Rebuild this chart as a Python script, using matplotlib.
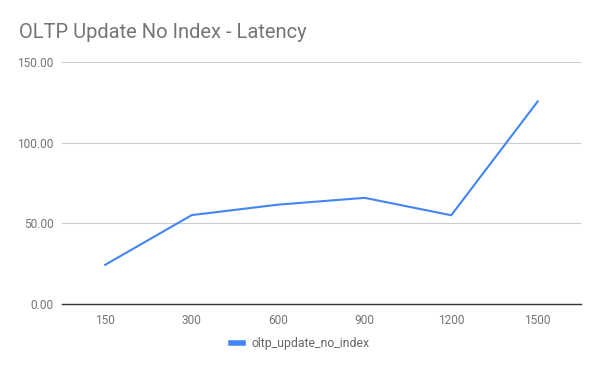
import matplotlib
matplotlib.use("Agg")
import matplotlib.pyplot as plt
from matplotlib.lines import Line2D

categories = ["150", "300", "600", "900", "1200", "1500"]
latency = [24.3, 55.1, 61.6, 65.8, 55.0, 125.6]
series_name = "oltp_update_no_index"
title = "OLTP Update No Index - Latency"
yticks = [0, 50, 100, 150]

plt.rcParams['font.family'] = ['Roboto', 'DejaVu Sans']

fig = plt.figure(figsize=(6.0, 3.71), dpi=100)
ax = fig.add_axes([62/600, 1-304/371, 519/600, 242/371])

x = list(range(len(categories)))
ax.plot(x, latency, color="#4285F4", linewidth=1.5, solid_joinstyle="round")

ax.set_xlim(-0.5, len(categories) - 0.5)
ax.set_ylim(0, 150)
ax.set_xticks(x)
ax.set_xticklabels(categories)
ax.set_yticks(yticks)
ax.set_yticklabels([f"{v:.2f}" for v in yticks])
ax.grid(axis="y", color="#cccccc", linewidth=0.8)
ax.set_axisbelow(True)
for s in ["top", "right", "left"]:
    ax.spines[s].set_visible(False)
ax.spines["bottom"].set_color("#333333")
ax.spines["bottom"].set_linewidth(1.0)
ax.tick_params(axis="both", length=0, labelsize=8.6, colors="#757575")
ax.tick_params(axis="x", pad=7)
ax.tick_params(axis="y", pad=6)

fig.text(19/600, 1-32/371, title, fontsize=14.5, color="#757575", va="center", ha="left")

handle = Line2D([0], [0], color="#4285F4", linewidth=4)
fig.legend([handle], [series_name], loc="center", bbox_to_anchor=(0.5, 1-344/371),
           frameon=False, fontsize=8.8, labelcolor="#666666", handlelength=1.0,
           handletextpad=0.7)

fig.savefig("out.png", dpi=100)
